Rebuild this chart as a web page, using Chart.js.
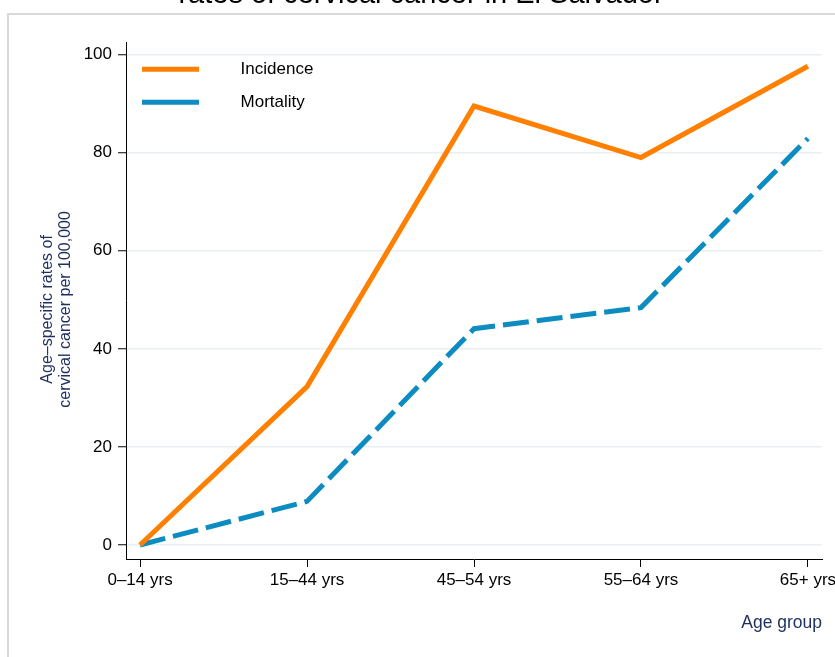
<!DOCTYPE html>
<html>
<head>
<meta charset="utf-8">
<script src="https://cdn.jsdelivr.net/npm/chart.js@4"></script>
<style>
  html, body { margin: 0; padding: 0; background: #fff; overflow: hidden; }
  #chart-parent { width: 835px; height: 657px; }
</style>
</head>
<body>
<div id="chart-parent"><canvas id="rates" width="835" height="657"></canvas></div>
<script>
const ageGroups = ['0–14 yrs', '15–44 yrs', '45–54 yrs', '55–64 yrs', '65+ yrs'];
const incidence = [0, 32.3, 89.5, 79.0, 97.6];
const mortality = [0, 8.9, 44.1, 48.4, 82.9];
const yTicks = [0, 20, 40, 60, 80, 100];

const titleText = 'rates of cervical cancer in El Salvador';
const yTitle = ['Age–specific rates of', 'cervical cancer per 100,000'];
const xTitle = 'Age group';

const orange = '#ff7f00';
const blue = '#0d8cc1';
const navy = '#1f2f5e';
const font = "'Liberation Sans', Arial, sans-serif";

const toPoints = (vals) => vals.map((v, i) => ({x: i, y: v}));

// light grey frame of the graph region (runs off the right and bottom)
const framePlugin = {
  id: 'frame',
  beforeDraw: (chart) => {
    const ctx = chart.ctx;
    ctx.save();
    ctx.fillStyle = '#fff';
    ctx.fillRect(0, 0, chart.width, chart.height);
    ctx.strokeStyle = '#d9d9d9';
    ctx.lineWidth = 2;
    ctx.strokeRect(8, 14, chart.width + 20, chart.height + 20);
    ctx.restore();
  }
};

let ratesChart = new Chart(document.getElementById('rates'), {
  type: 'line',
  data: {
    datasets: [{
      label: 'Incidence',
      data: toPoints(incidence),
      borderColor: orange,
      backgroundColor: orange,
      borderWidth: 5,
      pointRadius: 0,
      tension: 0,
      fill: false
    }, {
      label: 'Mortality',
      data: toPoints(mortality),
      borderColor: blue,
      backgroundColor: blue,
      borderWidth: 5,
      borderDash: [26, 8],
      pointRadius: 0,
      tension: 0,
      fill: false
    }]
  },
  options: {
    responsive: false,
    animation: false,
    devicePixelRatio: 1,
    layout: { padding: { left: 20, right: 13, top: 0, bottom: 0 } },
    scales: {
      x: {
        type: 'linear',
        min: -0.084,
        max: 4.084,
        afterBuildTicks: (s) => { s.ticks = ageGroups.map((c, i) => ({ value: i })); },
        afterFit: (s) => { s.height = 98; s.paddingLeft = 0; s.paddingRight = 0; },
        ticks: {
          callback: (v) => ageGroups[v],
          color: '#000',
          font: { family: font, size: 17 },
          padding: 3,
          maxRotation: 0,
          autoSkip: false
        },
        grid: { drawOnChartArea: false, tickLength: 8, tickColor: '#000', tickWidth: 1 },
        border: { color: '#000', width: 1 },
        title: {
          display: true,
          text: xTitle,
          align: 'end',
          color: navy,
          font: { family: font, size: 17.5, lineHeight: 1.2 },
          padding: { top: 0, bottom: 23 }
        }
      },
      y: {
        min: -2.85,
        max: 102.55,
        afterBuildTicks: (s) => { s.ticks = yTicks.map((v) => ({ value: v })); },
        afterFit: (s) => { s.width = 106; s.paddingTop = 0; s.paddingBottom = 0; },
        ticks: { color: '#000', font: { family: font, size: 17 }, padding: 6 },
        grid: { color: '#eaeff3', lineWidth: 1.5, tickLength: 8, tickColor: '#000', tickWidth: 1 },
        border: { color: '#000', width: 1 },
        title: {
          display: true,
          text: yTitle.map((t) => t + '    '),
          color: navy,
          font: { family: font, size: 16, lineHeight: 1.1 },
          padding: { top: 19, bottom: 0 }
        }
      }
    },
    plugins: {
      title: {
        display: true,
        text: titleText,
        color: '#000',
        font: { family: font, size: 29, weight: 'normal', lineHeight: 1 },
        padding: { top: -20, bottom: 33 }
      },
      legend: {
        position: 'chartArea',
        align: 'start',
        // an empty title pushes the items down to the top of the plot
        title: { display: true, text: '', font: { size: 1, lineHeight: 1 }, padding: { top: 43.8, bottom: 0 } },
        labels: {
          usePointStyle: true,
          pointStyle: 'line',
          pointStyleWidth: 57,
          padding: 16,
          color: '#000',
          font: { family: font, size: 17 },
          generateLabels: (chart) => Chart.defaults.plugins.legend.labels.generateLabels(chart)
            .map((item) => ({ ...item, text: '       ' + item.text }))
        }
      },
      tooltip: { enabled: false }
    }
  },
  plugins: [framePlugin]
});
</script>
</body>
</html>
